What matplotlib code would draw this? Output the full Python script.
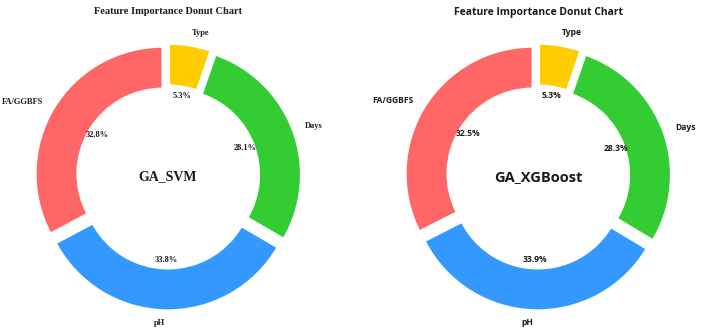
import matplotlib
matplotlib.use("Agg")
import matplotlib.pyplot as plt

features = ["Type", "Days", "pH", "FA/GGBFS"]
svm_values = [5.3, 28.1, 33.8, 32.8]
xgb_values = [5.3, 28.3, 33.9, 32.5]
colors = ["#FFCC00", "#33CC33", "#3399FF", "#FF6666"]
models = ["GA_SVM", "GA_XGBoost"]
title = "Feature Importance Donut Chart"

W, H = 704, 334
fig = plt.figure(figsize=(W / 100, H / 100), dpi=100)

scale = 127.0  # px per data unit
lim = 1.25
side = 2 * lim * scale

def make_axes(cx, cy):
    left = (cx - side / 2) / W
    bottom = (H - cy - side / 2) / H
    ax = fig.add_axes([left, bottom, side / W, side / H])
    ax.set_xlim(-lim, lim)
    ax.set_ylim(-lim, lim)
    ax.set_aspect("equal")
    ax.axis("off")
    return ax

specs = [
    (168, 177, svm_values, models[0], "Liberation Serif", 6.0, 10.0),
    (538, 177, xgb_values, models[1], "Open Sans", 6.1, 10.5),
]

for cx, cy, vals, name, fam, fs, cfs in specs:
    ax = make_axes(cx, cy)
    wedges, texts, autotexts = ax.pie(
        vals,
        labels=features,
        colors=colors,
        startangle=90,
        counterclock=False,
        explode=[0.05] * len(vals),
        autopct="%1.1f%%",
        pctdistance=0.6,
        labeldistance=1.1,
        wedgeprops=dict(width=0.33, edgecolor="white", linewidth=1.5),
        textprops=dict(fontsize=fs, fontweight="bold", color="#1a1a1a", family=fam),
    )
    ax.text(0, 0, name, ha="center", va="center", fontsize=cfs,
            fontweight="bold", color="#1a1a1a", family=fam)
    fig.text(cx / W, 1 - 12 / H, title, ha="center", va="center",
             fontsize=7.5, fontweight="bold", color="#1a1a1a", family=fam)

fig.savefig("out.png", dpi=100, facecolor="white")
